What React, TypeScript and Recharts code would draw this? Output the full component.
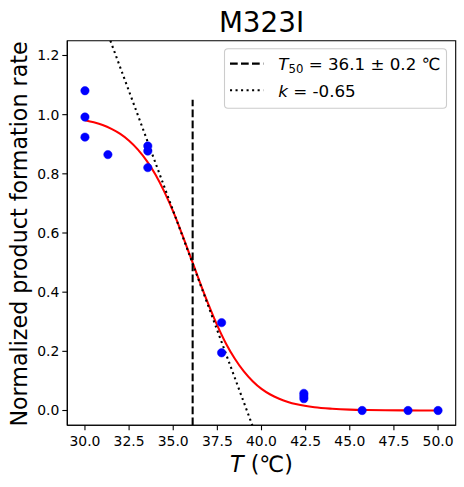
import React from "react";
import { ComposedChart, XAxis, YAxis, Scatter, Line, ReferenceArea } from "recharts";

const title = "M323I";
const xTicks = [30, 32.5, 35, 37.5, 40, 42.5, 45, 47.5, 50];
const yTicks = [0, 0.2, 0.4, 0.6, 0.8, 1.0, 1.2];
const xDomain = [29, 51];
const yDomain = [-0.05, 1.25];

const measured = [
  { x: 30, y: 1.081 }, { x: 30, y: 0.992 }, { x: 30, y: 0.924 },
  { x: 31.3, y: 0.865 },
  { x: 33.56, y: 0.894 }, { x: 33.56, y: 0.877 }, { x: 33.56, y: 0.821 },
  { x: 37.74, y: 0.297 }, { x: 37.74, y: 0.195 },
  { x: 42.4, y: 0.058 }, { x: 42.4, y: 0.049 }, { x: 42.4, y: 0.04 },
  { x: 45.7, y: 0.0 }, { x: 48.3, y: 0.0 }, { x: 50, y: 0.0 },
];

const fitCurve = [
  { x: 30, y: 0.981 }, { x: 30.5, y: 0.974 }, { x: 31, y: 0.965 }, { x: 31.5, y: 0.952 },
  { x: 32, y: 0.935 }, { x: 32.5, y: 0.912 }, { x: 33, y: 0.882 }, { x: 33.5, y: 0.844 },
  { x: 34, y: 0.797 }, { x: 34.5, y: 0.739 }, { x: 35, y: 0.672 }, { x: 35.5, y: 0.596 },
  { x: 36, y: 0.516 }, { x: 36.5, y: 0.435 }, { x: 37, y: 0.358 }, { x: 37.5, y: 0.287 },
  { x: 38, y: 0.225 }, { x: 38.5, y: 0.174 }, { x: 39, y: 0.132 }, { x: 39.5, y: 0.099 },
  { x: 40, y: 0.073 }, { x: 40.5, y: 0.054 }, { x: 41, y: 0.04 }, { x: 41.5, y: 0.029 },
  { x: 42, y: 0.021 }, { x: 43, y: 0.011 }, { x: 44, y: 0.006 }, { x: 45, y: 0.003 },
  { x: 46, y: 0.0016 }, { x: 47, y: 0.0008 }, { x: 48, y: 0.0004 }, { x: 49, y: 0.0002 },
  { x: 50, y: 0.0001 },
];

const t50Line = [
  { x: 36.1, y: -0.05 },
  { x: 36.1, y: 1.05 },
];

const slopeLine = [
  { x: 31.44, y: 1.25 },
  { x: 39.48, y: -0.05 },
];

const legendT50 = { value: "36.1", err: "0.2", unit: "\u2103" };
const legendK = "-0.65";

const FONT = "DejaVu Sans";

const Dot = (props: any) => {
  const { cx, cy } = props;
  if (cx == null || cy == null) return null;
  return <circle cx={cx} cy={cy} r={4.2} fill="#0000ff" stroke="#0000ff" strokeWidth={0.5} />;
};

export default function App() {
  return (
    <div style={{ position: "absolute", left: 0, top: 0, width: 464, height: 487, background: "#fff" }}>
      <ComposedChart
        width={464}
        height={487}
        margin={{ top: 40.7, right: 8.3, bottom: 31.7, left: 7.3 }}
      >
        <XAxis
          type="number"
          dataKey="x"
          domain={xDomain}
          allowDataOverflow
          ticks={xTicks}
          tickFormatter={(v: number) => v.toFixed(1)}
          height={30}
          tickSize={5}
          tickMargin={6}
          axisLine={{ stroke: "#000", strokeWidth: 1.1 }}
          tickLine={{ stroke: "#000", strokeWidth: 1.1 }}
          tick={{ fill: "#000", fontSize: 13.9, fontFamily: FONT }}
          interval={0}
        />
        <YAxis
          type="number"
          dataKey="y"
          domain={yDomain}
          allowDataOverflow
          ticks={yTicks}
          tickFormatter={(v: number) => v.toFixed(1)}
          width={60}
          tickSize={5}
          tickMargin={3}
          axisLine={{ stroke: "#000", strokeWidth: 1.1 }}
          tickLine={{ stroke: "#000", strokeWidth: 1.1 }}
          tick={{ fill: "#000", fontSize: 13.9, fontFamily: FONT }}
          interval={0}
        />
        <ReferenceArea
          x1={xDomain[0]}
          x2={xDomain[1]}
          y1={yDomain[0]}
          y2={yDomain[1]}
          fill="none"
          stroke="#000"
          strokeWidth={1.1}
          ifOverflow="visible"
        />
        <Scatter data={measured} dataKey="y" shape={Dot} isAnimationActive={false} />
        <Line
          data={fitCurve}
          dataKey="y"
          type="monotone"
          stroke="#ff0000"
          strokeWidth={2.08}
          dot={false}
          activeDot={false}
          isAnimationActive={false}
        />
        <Line
          data={t50Line}
          dataKey="y"
          type="linear"
          stroke="#000"
          strokeWidth={2.08}
          strokeDasharray="7.7 3.3"
          dot={false}
          activeDot={false}
          isAnimationActive={false}
        />
        <Line
          data={slopeLine}
          dataKey="y"
          type="linear"
          stroke="#000"
          strokeWidth={2.08}
          strokeDasharray="2.08 3.44"
          dot={false}
          activeDot={false}
          isAnimationActive={false}
        />
      </ComposedChart>
      <svg
        width={464}
        height={487}
        style={{ position: "absolute", left: 0, top: 0, pointerEvents: "none" }}
        fontFamily={FONT}
      >
        <text x={261.5} y={31.5} textAnchor="middle" fontSize={27.8} fill="#000">
          {title}
        </text>
        <text x={261.5} y={471.5} textAnchor="middle" fontSize={22.2} fill="#000">
          <tspan fontStyle="italic">T</tspan>
          <tspan>{" (\u2103)"}</tspan>
        </text>
        <text
          x={26.5}
          y={234}
          textAnchor="middle"
          fontSize={22.2}
          fill="#000"
          transform="rotate(-90, 26.5, 234)"
        >
          Normalized product formation rate
        </text>
        <g>
          <rect x={224.5} y={48.8} width={222} height={59.5} rx={3.5} ry={3.5} fill="#fff" fillOpacity={0.8} stroke="#cccccc" strokeWidth={1.1} />
          <line x1={230} y1={63.6} x2={263.3} y2={63.6} stroke="#000" strokeWidth={2.08} strokeDasharray="7.7 3.3" />
          <line x1={230} y1={90.3} x2={263.3} y2={90.3} stroke="#000" strokeWidth={2.08} strokeDasharray="2.08 3.44" />
          <text x={278.3} y={69.8} fontSize={16.7} fill="#000">
            <tspan fontStyle="italic">T</tspan>
            <tspan fontSize={11.7} dy={3}>50</tspan>
            <tspan dy={-3}>{` = ${legendT50.value} \u00b1 ${legendT50.err} ${legendT50.unit}`}</tspan>
          </text>
          <text x={278.3} y={97} fontSize={16.7} fill="#000">
            <tspan fontStyle="italic">k</tspan>
            <tspan>{` = ${legendK}`}</tspan>
          </text>
        </g>
      </svg>
    </div>
  );
}
